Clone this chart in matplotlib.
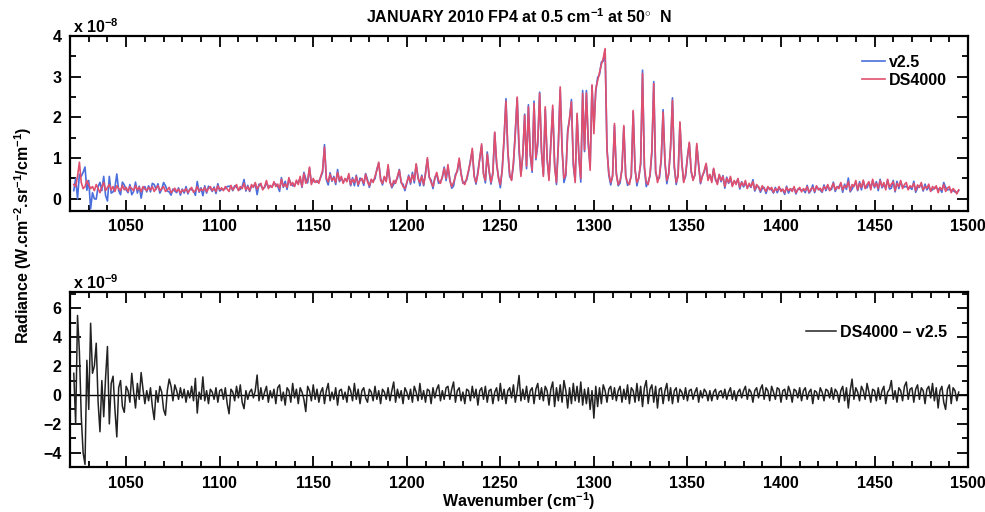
import numpy as np
import matplotlib
matplotlib.use("Agg")
import matplotlib.pyplot as plt
from matplotlib.ticker import MultipleLocator

plt.rcParams["font.family"] = ["Liberation Sans", "DejaVu Sans"]
plt.rcParams["font.weight"] = "bold"
plt.rcParams["axes.labelweight"] = "bold"
plt.rcParams["axes.titleweight"] = "bold"
plt.rcParams["mathtext.fontset"] = "custom"
plt.rcParams["mathtext.rm"] = "Liberation Sans:bold"
plt.rcParams["mathtext.bf"] = "Liberation Sans:bold"
plt.rcParams["mathtext.it"] = "Liberation Sans:bold"
plt.rcParams["mathtext.default"] = "rm"

# spectral grid, 1 cm-1 steps from 1022 to 1495 cm-1
wavenumber = np.arange(1022, 1496)

# DS4000 radiance (x 1e-8 W.cm-2.sr-1/cm-1), one row per 10 cm-1
ds4000 = [
    0.35, 0.30, 0.55, 0.90, 0.40, 0.25, 0.30, 0.45, 0.35, 0.25,
    0.30, 0.20, 0.35, 0.25, 0.15, 0.30, 0.40, 0.20, 0.28, 0.35,
    0.22, 0.30, 0.18, 0.32, 0.25, 0.20, 0.33, 0.22, 0.28, 0.18,
    0.30, 0.25, 0.20, 0.32, 0.22, 0.28, 0.17, 0.30, 0.24, 0.20,
    0.28, 0.22, 0.30, 0.18, 0.26, 0.32, 0.20, 0.25, 0.30, 0.18,
    0.22, 0.28, 0.15, 0.20, 0.26, 0.18, 0.24, 0.14, 0.22, 0.18,
    0.25, 0.15, 0.22, 0.28, 0.16, 0.20, 0.30, 0.18, 0.24, 0.20,
    0.28, 0.17, 0.25, 0.30, 0.20, 0.26, 0.18, 0.32, 0.22, 0.27,
    0.20, 0.30, 0.24, 0.18, 0.33, 0.22, 0.28, 0.35, 0.20, 0.30,
    0.25, 0.38, 0.22, 0.30, 0.20, 0.35, 0.28, 0.40, 0.24, 0.32,
    0.38, 0.22, 0.30, 0.45, 0.25, 0.33, 0.28, 0.42, 0.30, 0.36,
    0.25, 0.48, 0.30, 0.36, 0.28, 0.52, 0.33, 0.40, 0.30, 0.46,
    0.35, 0.55, 0.30, 0.62, 0.38, 0.45, 0.78, 0.35, 0.50, 0.40,
    0.45, 0.38, 0.55, 0.70, 1.27, 0.50, 0.42, 0.60, 0.45, 0.52,
    0.40, 0.65, 0.45, 0.55, 0.38, 0.50, 0.42, 0.62, 0.35, 0.48,
    0.40, 0.55, 0.35, 0.45, 0.50, 0.38, 0.60, 0.42, 0.32, 0.48,
    0.40, 0.55, 0.70, 0.90, 0.45, 0.38, 0.55, 0.42, 0.84, 0.40,
    0.30, 0.45, 0.38, 0.55, 0.70, 0.42, 0.30, 0.25, 0.40, 0.55,
    0.40, 0.60, 0.45, 0.86, 0.50, 0.40, 0.55, 0.35, 0.60, 1.01,
    0.55, 0.40, 0.30, 0.50, 0.65, 0.45, 0.38, 0.55, 0.75, 0.50,
    0.84, 0.45, 0.30, 0.40, 0.55, 0.70, 1.00, 0.60, 0.40, 0.35,
    0.50, 0.70, 0.90, 1.24, 0.55, 0.40, 0.60, 1.00, 1.35, 0.60,
    0.45, 1.10, 0.70, 0.40, 0.60, 1.64, 0.90, 0.50, 0.35, 0.70,
    1.50, 2.40, 1.20, 0.60, 0.45, 0.90, 1.60, 2.50, 1.30, 0.55,
    1.10, 2.05, 0.80, 2.26, 1.10, 0.70, 2.34, 1.00, 1.40, 2.59,
    1.20, 0.55, 2.26, 1.00, 0.45, 1.40, 2.30, 0.80, 0.40, 1.30,
    2.75, 1.20, 0.50, 0.60, 1.60, 2.00, 2.38, 0.90, 0.40, 2.10,
    1.00, 0.50, 2.59, 1.20, 2.60, 1.40, 0.70, 2.80, 1.60, 2.70,
    2.90, 3.10, 3.30, 3.45, 3.69, 1.20, 0.62, 0.40, 0.55, 1.85,
    0.60, 0.35, 0.45, 0.70, 1.80, 0.55, 0.40, 0.35, 0.60, 2.17,
    0.70, 0.40, 0.50, 0.90, 3.08, 0.80, 0.40, 0.35, 0.60, 1.20,
    2.83, 0.70, 0.40, 0.55, 1.00, 2.13, 0.90, 0.45, 0.60, 1.30,
    2.42, 0.80, 0.40, 0.55, 1.89, 0.90, 0.40, 0.60, 1.00, 1.39,
    0.70, 0.45, 0.60, 1.36, 0.80, 0.40, 0.55, 0.70, 0.87, 0.45,
    0.60, 0.40, 0.75, 0.50, 0.35, 0.60, 0.45, 0.55, 0.30, 0.50,
    0.40, 0.55, 0.30, 0.45, 0.35, 0.50, 0.28, 0.40, 0.32, 0.45,
    0.25, 0.38, 0.30, 0.42, 0.22, 0.35, 0.28, 0.20, 0.32, 0.25,
    0.18, 0.30, 0.22, 0.28, 0.16, 0.25, 0.20, 0.30, 0.18, 0.24,
    0.15, 0.28, 0.20, 0.25, 0.18, 0.30, 0.15, 0.22, 0.28, 0.17,
    0.25, 0.20, 0.30, 0.16, 0.24, 0.28, 0.18, 0.32, 0.22, 0.26,
    0.18, 0.30, 0.24, 0.35, 0.20, 0.28, 0.38, 0.22, 0.30, 0.25,
    0.40, 0.22, 0.32, 0.28, 0.42, 0.20, 0.35, 0.30, 0.45, 0.22,
    0.38, 0.28, 0.46, 0.25, 0.35, 0.42, 0.22, 0.48, 0.30, 0.38,
    0.25, 0.45, 0.30, 0.40, 0.22, 0.48, 0.28, 0.36, 0.42, 0.20,
    0.38, 0.30, 0.45, 0.25, 0.35, 0.40, 0.22, 0.32, 0.28, 0.38,
    0.20, 0.34, 0.28, 0.40, 0.22, 0.30, 0.26, 0.36, 0.18, 0.30,
    0.24, 0.32, 0.15, 0.28, 0.22, 0.35, 0.18, 0.26, 0.30, 0.15,
    0.25, 0.20, 0.12, 0.22,
]

# DS4000 - v2.5 difference (x 1e-9 W.cm-2.sr-1/cm-1)
diff = [
    1.5, -2.0, 5.5, 3.0, -1.5, -4.0, -4.8, 2.4, -1.0, 4.96,
    1.5, 2.0, 3.58, -0.5, -2.54, 1.0, -1.5, 1.2, 3.35, -2.0,
    0.8, 1.3, -1.0, -2.9, 0.5, 1.0, -0.8, -1.2, 0.6, 0.3,
    -0.5, 1.5, 0.2, -0.9, 0.8, -0.3, 1.55, 0.4, -0.6, 0.3,
    -0.4, 0.5, -0.8, -1.7, 0.3, -0.5, 0.6, 0.2, -1.0, -1.4,
    0.3, 1.1, 0.6, -0.4, 0.7, 0.3, -0.3, 0.5, -0.2, 0.4,
    -0.5, 0.3, -0.2, 0.6, -0.4, 1.15, -1.25, 0.2, -0.3, 1.25,
    -0.4, 0.3, -0.6, 0.4, 0.2, -0.3, 0.5, -0.5, 0.3, 0.4,
    -0.3, 0.5, -0.6, -1.3, 0.4, 0.2, -0.4, 0.6, -0.2, 0.7,
    -0.5, -0.95, 0.3, -0.3, 0.2, 0.4, -0.2, 0.3, 1.38, -0.4,
    0.5, -0.3, 0.2, 0.6, -0.5, 0.3, -0.2, 0.4, -0.6, 0.5,
    0.7, -0.4, 0.2, -0.7, 0.5, 0.3, -0.5, 0.8, -0.2, 0.4,
    -0.6, 0.5, 0.2, -0.3, -1.15, 0.6, 0.3, -0.4, 0.7, -0.3,
    0.4, -0.5, 0.2, 0.5, -0.6, 0.3, 0.8, -0.4, 0.2, -0.3,
    0.5, -0.7, 0.3, 0.4, -0.3, 0.2, -0.5, 0.6, 0.3, -0.4,
    0.8, -0.3, 0.4, -0.6, 0.3, 0.5, -0.2, -0.5, 0.4, 0.2,
    -0.4, 0.6, -0.3, 0.3, -0.6, 0.4, 0.2, -0.3, 0.5, -0.4,
    0.3, 0.9, -0.5, 0.4, -0.2, 0.3, -0.6, 0.5, 0.2, -0.3,
    0.4, -0.5, 0.6, 0.2, -0.4, 0.8, -0.3, 0.3, -0.5, 0.4,
    0.3, -0.6, 0.5, -0.2, 0.4, 0.7, -0.4, 0.3, -0.3, 0.5,
    0.6, -0.3, 0.4, 0.9, -0.5, 0.3, 0.5, -0.4, 0.2, -0.6,
    0.4, 0.3, -0.4, 0.6, -0.2, 0.4, -0.7, 0.3, 0.5, -0.3,
    0.6, -0.5, 0.3, 0.4, -0.6, 0.2, 0.5, -0.4, 0.8, -0.3,
    0.4, -0.6, 0.3, 0.5, -0.2, 0.7, -0.5, 0.3, 1.35, -0.4,
    0.4, -0.3, 0.6, -0.5, 0.3, 0.5, -0.6, 0.4, 0.8, -0.3,
    0.5, -0.4, 0.6, 0.3, -0.7, 0.4, 0.9, -0.8, 0.5, -0.4,
    0.7, -0.5, 1.0, 0.3, -0.9, 0.5, -0.6, 0.8, -0.4, 0.6,
    -0.5, 0.9, -0.7, 0.4, -0.6, 0.5, -1.0, 0.3, -1.6, 0.6,
    -0.8, 0.5, -0.6, 0.7, 0.3, -0.5, 0.4, 0.6, -0.3, 0.5,
    -0.4, 0.3, 0.6, -0.5, 0.4, -0.3, 0.7, -0.6, 0.5, 0.3,
    -0.5, 0.8, -0.4, 0.6, -0.8, 0.5, 1.0, -0.6, 0.4, 0.7,
    -0.5, 0.6, -0.9, 0.4, 0.5, -0.6, 0.3, 0.8, -0.4, 0.5,
    -0.6, 0.3, 0.5, -0.5, 0.4, 0.2, -0.3, 0.5, -0.4, 0.3,
    0.4, -0.3, 0.2, 0.5, -0.5, 0.3, -0.2, 0.4, 0.2, -0.4,
    0.3, -0.4, 0.2, 0.4, -0.3, 0.2, 0.3, -0.2, 0.4, -0.3,
    0.2, 0.5, -0.3, 0.3, -0.4, 0.2, 0.4, -0.2, 0.3, 0.6,
    -0.3, 0.4, 0.2, -0.5, 0.3, 0.5, -0.2, 0.4, 0.7, -0.3,
    0.5, 0.3, -0.4, 0.6, 0.2, -0.3, 0.5, 0.4, -0.5, 0.3,
    0.4, -0.3, 0.6, 0.2, -0.5, 0.4, 0.3, -0.2, 0.5, -0.4,
    0.3, 0.5, -0.3, 0.2, 0.4, -0.6, 0.3, 0.2, -0.3, 0.5,
    0.2, -0.4, 0.4, 0.3, -0.2, 0.5, -0.3, 0.4, 0.2, -0.5,
    0.3, 0.6, -0.4, 0.5, -0.9, 0.3, 1.1, -0.3, 0.5, 0.2,
    -0.4, 0.6, 0.3, -0.3, 0.8, 0.2, -0.5, 0.4, 0.3, -0.4,
    0.5, -0.3, 0.3, 0.6, -0.6, 0.2, 0.4, 1.0, -0.3, 0.3,
    -0.5, 0.5, 0.3, -0.4, 0.6, 0.9, -0.3, 0.4, 0.5, -0.5,
    0.4, 0.7, -0.3, 0.5, 0.3, -0.6, 0.4, 0.6, -0.2, 0.8,
    -0.4, 0.5, -0.9, 0.3, 0.6, -0.5, -1.0, 0.4, 0.7, -0.6,
    0.5, 0.3, -0.4, 0.2,
]

ds4000 = np.array(ds4000)
diff = np.array(diff)
# v2.5 follows from DS4000 and the difference (1e-9 -> 1e-8 units)
v25 = ds4000 - diff / 10.0

BLUE = "#4a6fdc"
RED = "#e0506e"
FS = 11.5


def style_axis(ax, major_y, minor_y):
    ax.set_xlim(1020, 1500)
    ax.xaxis.set_major_locator(MultipleLocator(50))
    ax.xaxis.set_minor_locator(MultipleLocator(10))
    ax.yaxis.set_major_locator(MultipleLocator(major_y))
    ax.yaxis.set_minor_locator(MultipleLocator(minor_y))
    ax.tick_params(which="both", direction="in", top=True, right=True,
                   labelsize=FS, width=1.3, pad=6)
    ax.tick_params(which="major", length=8)
    ax.tick_params(which="minor", length=4)
    for s in ax.spines.values():
        s.set_linewidth(1.6)


fig = plt.figure(figsize=(9.85, 5.12), dpi=100)
ax1 = fig.add_axes([0.0711, 0.5879, 0.9117, 0.3418])
ax2 = fig.add_axes([0.0711, 0.0873, 0.9117, 0.3418])

# upper panel: both radiance spectra
ax1.plot(wavenumber, v25, color=BLUE, lw=1.2, label="v2.5")
ax1.plot(wavenumber, ds4000, color=RED, lw=1.2, label="DS4000")
ax1.set_ylim(-0.3, 4)
style_axis(ax1, 1, 0.5)
ax1.set_title(r"JANUARY 2010 FP4 at 0.5 cm$^{-1}$ at 50$^{\circ}$  N",
              fontsize=FS, pad=9)
ax1.text(0.003, 1.0, r"x 10$^{-8}$", transform=ax1.transAxes,
         fontsize=FS, ha="left", va="bottom")
ax1.legend(loc="upper right", bbox_to_anchor=(0.984, 0.93), frameon=False,
           fontsize=FS, handlelength=1.45, handletextpad=0.25,
           labelspacing=0.2, borderaxespad=0)

# lower panel: difference
ax2.axhline(0, color="black", lw=1.0)
ax2.plot(wavenumber, diff, color="#222222", lw=1.1, label="DS4000 \u2013 v2.5")
ax2.set_ylim(-5, 7.1)
style_axis(ax2, 2, 1)
ax2.text(0.003, 1.0, r"x 10$^{-9}$", transform=ax2.transAxes,
         fontsize=FS, ha="left", va="bottom")
ax2.set_xlabel(r"Wavenumber (cm$^{-1}$)", fontsize=FS, labelpad=0)
ax2.legend(loc="upper right", bbox_to_anchor=(0.984, 0.85), frameon=False,
           fontsize=FS, handlelength=1.9, handletextpad=0.25,
           borderaxespad=0)

fig.text(0.024, 1 - 235 / 512, r"Radiance (W.cm$^{-2}$.sr$^{-1}$/cm$^{-1}$)",
         rotation=90, ha="center", va="center", fontsize=FS)

fig.savefig("out.png", dpi=100)
